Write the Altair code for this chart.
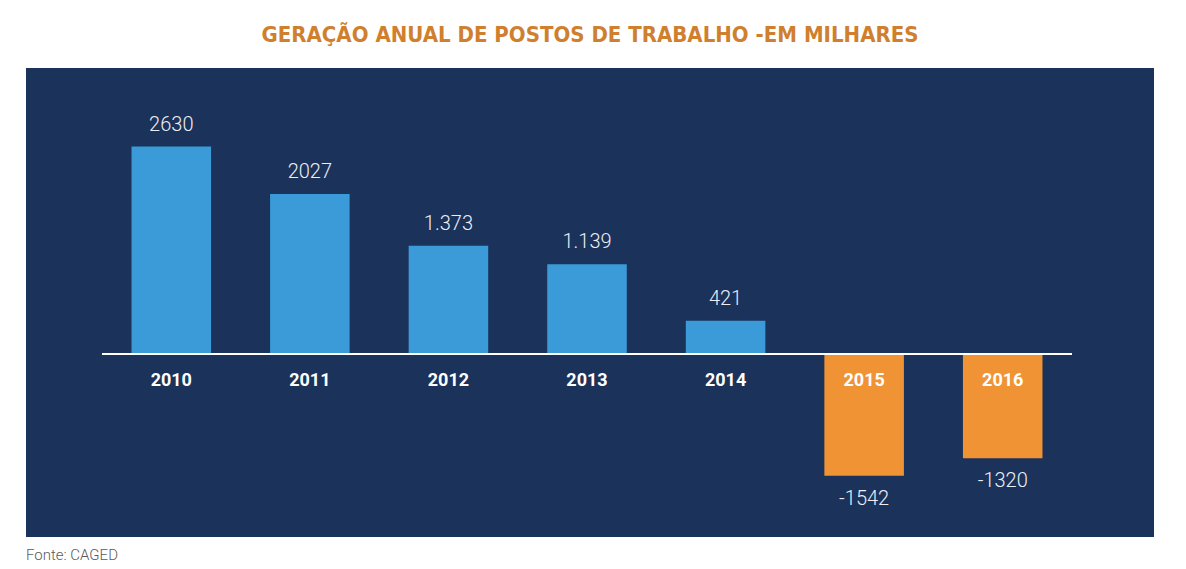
import altair as alt
import pandas as pd

years = ["2010", "2011", "2012", "2013", "2014", "2015", "2016"]
values = [2630, 2027, 1373, 1139, 421, -1542, -1320]
value_labels = ["2630", "2027", "1.373", "1.139", "421", "-1542", "-1320"]
source_note = "Fonte: CAGED"
title_text = "GERAÇÃO ANUAL DE POSTOS DE TRABALHO -EM MILHARES"

df = pd.DataFrame({"year": years, "value": values, "label": value_labels})
df["sign"] = ["pos" if v >= 0 else "neg" for v in values]
df["zero"] = 0

W, H = 1128, 469
x_scale = alt.Scale(domain=years, range=[76, 1046], paddingInner=0.426, paddingOuter=0.213)
y_scale = alt.Scale(domain=[-2319, 3625], nice=False, zero=False)

x_enc = alt.X("year:N", scale=x_scale, axis=None)
y_enc = alt.Y("value:Q", scale=y_scale, axis=None)
y_zero = alt.Y("zero:Q", scale=y_scale, axis=None)

base = alt.Chart(df)

bars = base.mark_bar().encode(
    x=x_enc,
    y=y_enc,
    y2="zero:Q",
    color=alt.Color("sign:N", scale=alt.Scale(domain=["pos", "neg"], range=["#3b9bd8", "#f09334"]), legend=None),
)

rule = alt.Chart(pd.DataFrame({"zero": [0]})).mark_rule(color="white", strokeWidth=2).encode(
    x=alt.value(76), x2=alt.value(1046), y=y_zero
)

year_text = base.mark_text(font="Roboto", fontWeight="bold", fontSize=18, color="white", baseline="middle", dy=27).encode(
    x=x_enc, y=y_zero, text="year:N"
)

pos_text = base.transform_filter("datum.value >= 0").mark_text(
    font="Roboto", fontWeight=300, fontSize=20, color="#eceef4", baseline="middle", dy=-22
).encode(x=x_enc, y=y_enc, text="label:N")

neg_text = base.transform_filter("datum.value < 0").mark_text(
    font="Roboto", fontWeight=300, fontSize=20, color="#eceef4", baseline="middle", dy=23
).encode(x=x_enc, y=y_enc, text="label:N")

note = alt.Chart(pd.DataFrame({"t": [source_note]})).mark_text(
    font="Roboto", fontWeight=300, fontSize=15, color="#5a5a5a", align="left", baseline="middle"
).encode(x=alt.value(0), y=alt.value(487), text="t:N")

chart = alt.layer(bars, rule, year_text, pos_text, neg_text, note).properties(
    width=W,
    height=H,
    autosize=alt.AutoSizeParams(type="none"),
    padding={"left": 18, "top": 60, "right": 24, "bottom": 30},
    background="white",
    title=alt.TitleParams(
        title_text,
        font="DejaVu Sans Condensed, DejaVu Sans",
        fontWeight="bold",
        fontSize=22,
        color="#cf7f2e",
        anchor="middle",
        offset=21,
    ),
).configure_view(fill="#1b325a", stroke=None)

chart.save("out.html", embed_options={"renderer": "svg", "actions": False})
